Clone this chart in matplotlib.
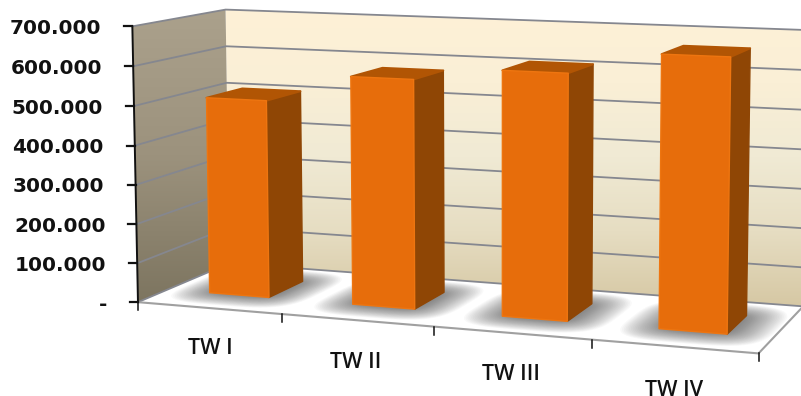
#!/usr/bin/env python3

import matplotlib
matplotlib.use("Agg")
import matplotlib.pyplot as plt
from matplotlib.colors import LinearSegmentedColormap
from matplotlib.patches import Polygon
import numpy as np

categories = ["TW I", "TW II", "TW III", "TW IV"]
values = [507000, 578000, 610000, 665000]
yTicks = [0, 100000, 200000, 300000, 400000, 500000, 600000, 700000]
yTickLabels = ["-", "100.000", "200.000", "300.000", "400.000", "500.000", "600.000", "700.000"]
yMax = 700000


# Fit a 3x4 perspective matrix (category, value fraction, depth) -> pixel
def fitProjection(anchors):
    rows = []
    for (x, y, z), (u, v) in anchors:
        p = [x, y, z, 1]
        rows.append(p + [0, 0, 0, 0] + [-u * c for c in p])
        rows.append([0, 0, 0, 0] + p + [-v * c for c in p])
    return np.linalg.svd(np.array(rows, dtype=float))[2][-1].reshape(3, 4)


camera = fitProjection([
    ((0, 0, 0), (139, 301)), ((0, 1, 0), (131, 26)),
    ((0, 0, 1), (229, 266)), ((0, 1, 1), (227, 9)),
    ((4, 0, 0), (758, 353)), ((4, 1, 0), (766, 54)),
    ((4, 0, 1), (805, 306)), ((4, 1, 1), (805, 28)),
    ((1, 0, 0), (282, 313)), ((2, 0, 0), (433, 326)), ((3, 0, 0), (591, 340)),
])


def project(x, value, z):
    q = camera @ np.array([x, value / yMax, z, 1.0])
    return q[0] / q[2], q[1] / q[2]


def poly(corners):
    return [project(*c) for c in corners]


fig = plt.figure(figsize=(8.01, 3.96), dpi=100)
ax = fig.add_axes([0, 0, 1, 1])
ax.set_xlim(0, 801)
ax.set_ylim(396, 0)
ax.axis("off")


def gradientWall(corners, colors, zorder):
    outline = poly(corners)
    ys = [p[1] for p in outline]
    xs = [p[0] for p in outline]
    cmap = LinearSegmentedColormap.from_list("wall", colors)
    img = ax.imshow(np.linspace(0, 1, 256).reshape(-1, 1), cmap=cmap, aspect="auto", zorder=zorder,
                    extent=(min(xs), max(xs), max(ys), min(ys)), interpolation="bilinear")
    img.set_clip_path(Polygon(outline, transform=ax.transData))


# back wall and side wall
gradientWall([(0, 0, 1), (0, yMax, 1), (4, yMax, 1), (4, 0, 1)],
             ["#FEF1D7", "#FAEFD6", "#F0EAD4", "#E6DDC2", "#D6C8A4"], 1)
gradientWall([(0, 0, 0), (0, yMax, 0), (0, yMax, 1), (0, 0, 1)],
             ["#ABA18C", "#9C927D", "#7D7560"], 1)
ax.set_xlim(0, 801)
ax.set_ylim(396, 0)

# floor
floor = Polygon(poly([(0, 0, 0), (4, 0, 0), (4, 0, 1), (0, 0, 1)]), closed=True, facecolor="white",
                edgecolor="none", zorder=2)
ax.add_patch(floor)

gridColor = "#85878F"
for tick in yTicks:
    ax.plot(*zip(*poly([(0, tick, 0), (0, tick, 1), (4, tick, 1)])), color=gridColor, lw=1.3, zorder=3,
            solid_joinstyle="miter")
ax.plot(*zip(*poly([(0, 0, 0), (4, 0, 0), (4, 0, 1)])), color="#A0A0A0", lw=1.5, zorder=3)

barWidth = 0.42
zFront, zBack = 0.31, 0.71
angles = np.linspace(0, 2 * np.pi, 60)

for i, value in enumerate(values):
    x0 = i + 0.51 - barWidth / 2
    x1 = x0 + barWidth

    # soft shadow on the floor, stacked rounded footprints
    cx, cz = (x0 + x1) / 2 + 0.01, (zFront + zBack) / 2
    for t in np.linspace(1, 0.05, 26):
        halfX = barWidth / 2 + 0.25 * t
        halfZ = (zBack - zFront) / 2 + 0.24 * t
        outline = [project(cx + halfX * np.sign(np.cos(a)) * abs(np.cos(a)) ** 0.55, 0,
                           cz + halfZ * np.sign(np.sin(a)) * abs(np.sin(a)) ** 0.55) for a in angles]
        shadow = Polygon(outline, closed=True, facecolor="#303030", edgecolor="none", alpha=0.027, zorder=4)
        ax.add_patch(shadow)
        shadow.set_clip_path(floor)

    side = poly([(x1, 0, zFront), (x1, value, zFront), (x1, value, zBack), (x1, 0, zBack)])
    top = poly([(x0, value, zFront), (x1, value, zFront), (x1, value, zBack), (x0, value, zBack)])
    front = poly([(x0, 0, zFront), (x1, 0, zFront), (x1, value, zFront), (x0, value, zFront)])
    ax.add_patch(Polygon(side, closed=True, facecolor="#8F4605", edgecolor="#8F4605", lw=1.0, joinstyle="round", zorder=5))
    ax.add_patch(Polygon(top, closed=True, facecolor="#B15504", edgecolor="#B15504", lw=1.4, joinstyle="round", zorder=5))
    ax.add_patch(Polygon(front, closed=True, facecolor="#E76D0B", edgecolor="#EE7510", lw=1.0, joinstyle="round", zorder=6))

# value axis, ticks and labels
ax.plot(*zip(*poly([(0, 0, 0), (0, yMax, 0)])), color="#111111", lw=1.4, zorder=7)
for tick, label in zip(yTicks, yTickLabels):
    px, py = project(0, tick, 0)
    ax.plot([px - 8, px], [py, py], color="#111111", lw=1.6, zorder=7, clip_on=False)
    ax.text(px - 31, py + 2, label, ha="right", va="center", fontsize=14.4, fontweight="bold",
            family="DejaVu Sans", color="#111111")

# category ticks and labels
for n in range(len(categories) + 1):
    px, py = project(n, 0, 0)
    ax.plot([px, px], [py, py + 8], color="#111111", lw=1.1, zorder=7)
labelCenters = [(210, 348), (355.5, 362), (510.5, 374), (674, 391)]
for label, (lx, ly) in zip(categories, labelCenters):
    ax.text(lx, ly, label, ha="center", va="center", fontsize=15.5, family="Open Sans", fontweight="semibold",
            color="#111111")

fig.savefig("out.png", dpi=100)
